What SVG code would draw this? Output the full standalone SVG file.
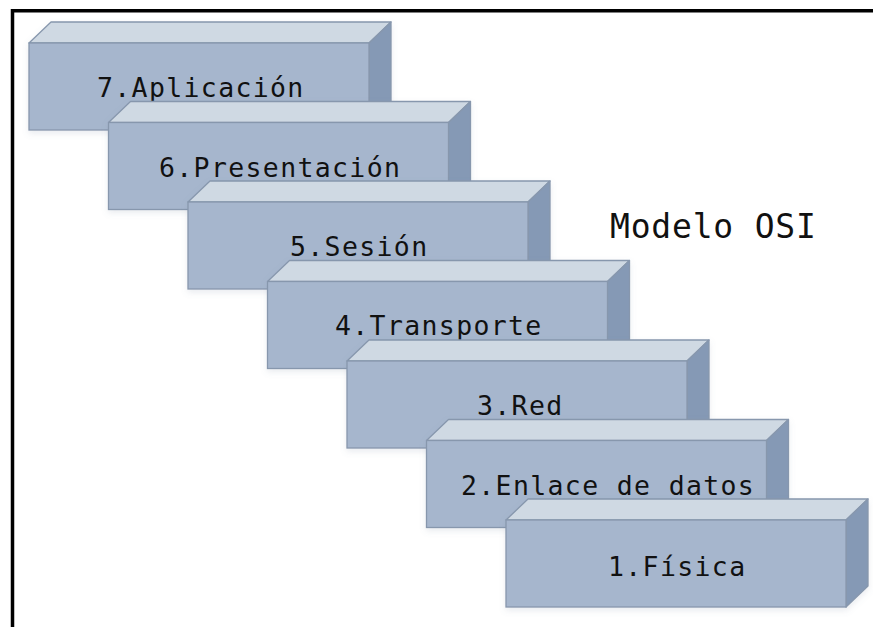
<svg xmlns="http://www.w3.org/2000/svg" width="873" height="627" viewBox="0 0 873 627">
  <style>
    .front { fill: #a6b6cd; stroke: #8797ad; stroke-width: 1.3; }
    .top { fill: #cfd9e3; stroke: #8797ad; stroke-width: 1.3; stroke-linejoin: round; }
    .side { fill: #8599b5; stroke: #8797ad; stroke-width: 1.3; stroke-linejoin: round; }
    .label { font-family: "DejaVu Sans Mono", "Liberation Mono", monospace; font-size: 26.5px; letter-spacing: 1.35px; fill: #111; }
    .title { font-family: "DejaVu Sans Mono", "Liberation Mono", monospace; font-size: 33px; letter-spacing: 0.8px; fill: #111; }
  </style>
  <defs>
    <filter id="soft" x="-10%" y="-20%" width="120%" height="150%">
      <feDropShadow dx="0" dy="3" stdDeviation="3" flood-color="#6b7f99" flood-opacity="0.15"/>
    </filter>
    <!-- one 3D slab: front face 340x87, depth 22 -->
    <g id="slab">
      <polygon class="top" points="0,0 22,-21 362,-21 340,0"/>
      <polygon class="side" points="340,0 362,-21 362,66 340,87"/>
      <rect class="front" x="0" y="0" width="340" height="87"/>
    </g>
  </defs>

  <rect width="873" height="627" fill="#ffffff"/>

  <!-- frame -->
  <g id="frame" stroke="#000" stroke-width="3.5" fill="none">
    <line x1="12.5" y1="10.8" x2="873" y2="10.8"/>
    <line x1="12.5" y1="9" x2="12.5" y2="627"/>
  </g>

  <g id="connectors"/>

  <g id="layer7">
    <use href="#slab" x="29" y="43" filter="url(#soft)"/>
    <text class="label" x="97" y="97">7.Aplicación</text>
  </g>
  <g id="layer6">
    <use href="#slab" x="108.5" y="122.5" filter="url(#soft)"/>
    <text class="label" x="159" y="177">6.Presentación</text>
  </g>
  <g id="layer5">
    <use href="#slab" x="188" y="202" filter="url(#soft)"/>
    <text class="label" x="290" y="256">5.Sesión</text>
  </g>
  <g id="layer4">
    <use href="#slab" x="267.5" y="281.5" filter="url(#soft)"/>
    <text class="label" x="335" y="335">4.Transporte</text>
  </g>
  <g id="layer3">
    <use href="#slab" x="347" y="361" filter="url(#soft)"/>
    <text class="label" x="477" y="415">3.Red</text>
  </g>
  <g id="layer2">
    <use href="#slab" x="426.5" y="440.5" filter="url(#soft)"/>
    <text class="label" x="461" y="495">2.Enlace de datos</text>
  </g>
  <g id="layer1">
    <use href="#slab" x="506" y="520" filter="url(#soft)"/>
    <text class="label" x="608" y="576">1.Física</text>
  </g>

  <g id="title">
    <text class="title" x="610" y="238">Modelo OSI</text>
  </g>
</svg>
